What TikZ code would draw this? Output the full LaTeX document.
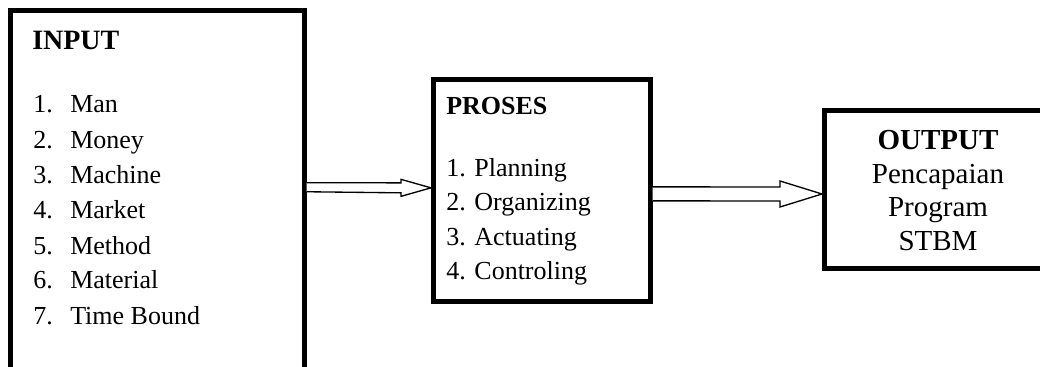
\documentclass[tikz,border=0pt]{standalone}
\usepackage{fontspec}
\setmainfont{Liberation Serif}
\usetikzlibrary{calc}
\tikzset{
  box/.style={draw=black, line width=3.75pt, inner sep=0pt, fill=none},
  fat/.style={draw=black, line width=1pt, fill=white, line join=miter},
  txt/.style={anchor=base west, inner sep=0pt},
  ctxt/.style={anchor=base, inner sep=0pt},
}
\newcommand{\fA}{\fontsize{21pt}{24pt}\selectfont\bfseries}
\newcommand{\fB}{\fontsize{19.5pt}{22pt}\selectfont}
\newcommand{\fC}{\fontsize{21.75pt}{24pt}\selectfont}
\begin{document}
\begin{tikzpicture}[x=0.75pt,y=-0.75pt]
\useasboundingbox (0,0) rectangle (1040,367);
\clip (0,0) rectangle (1040,367);
% boxes
\node[box, minimum width=220.5pt, minimum height=268.875pt] (input) at (157,189.75) {};
\node[box, minimum width=162.375pt, minimum height=167pt] (proses) at (541.75,190.35) {};
\node[box, minimum width=165.375pt, minimum height=118.5pt] (output) at (934.75,190) {};
% INPUT texts
\node[txt] (inh) at (32,50) {\fA INPUT};
\foreach \n/\t/\y in {1/Man/113,2/Money/149,3/Machine/184,4/Market/219,5/Method/255,6/Material/289,7/Time Bound/325}{
  \node[txt] (inn\n) at (33,\y) {\fB \n.};
  \node[txt] (int\n) at (70,\y) {\fB \t};
}
% PROSES texts
\node[txt] (prh) at (446,115) {\fA\fontsize{19.5pt}{22pt}\selectfont PROSES};
\foreach \n/\t/\y in {1/Planning/177,2/Organizing/211,3/Actuating/245.5,4/Controling/280}{
  \node[txt] (pr\n) at (446,\y) {\fB \n. \t};
}
% OUTPUT texts
\node[ctxt] (oh) at (938,150) {\fC\bfseries OUTPUT};
\node[ctxt] (o1) at (938,183.5) {\fC Pencapaian};
\node[ctxt] (o2) at (938,217) {\fC Program};
\node[ctxt] (o3) at (938,250.5) {\fC STBM};
% arrows
\draw[fat] ($(input.east)+(0,-7)$) -- ($(proses.west)+(-30,-7.5)$) -- ($(proses.west)+(-30,-11)$)
  -- ($(proses.west)+(0,-2.5)$) -- ($(proses.west)+(-30,6)$) -- ($(proses.west)+(-30,2.5)$)
  -- ($(input.east)+(0,2)$);
\draw[fat] ($(proses.east)+(0,-3.5)$) -- ($(output.west)+(-42,-3)$) -- ($(output.west)+(-42,-9)$)
  -- ($(output.west)+(0,4)$) -- ($(output.west)+(-42,17)$) -- ($(output.west)+(-42,11)$)
  -- ($(proses.east)+(0,10.5)$);
\end{tikzpicture}
\end{document}
